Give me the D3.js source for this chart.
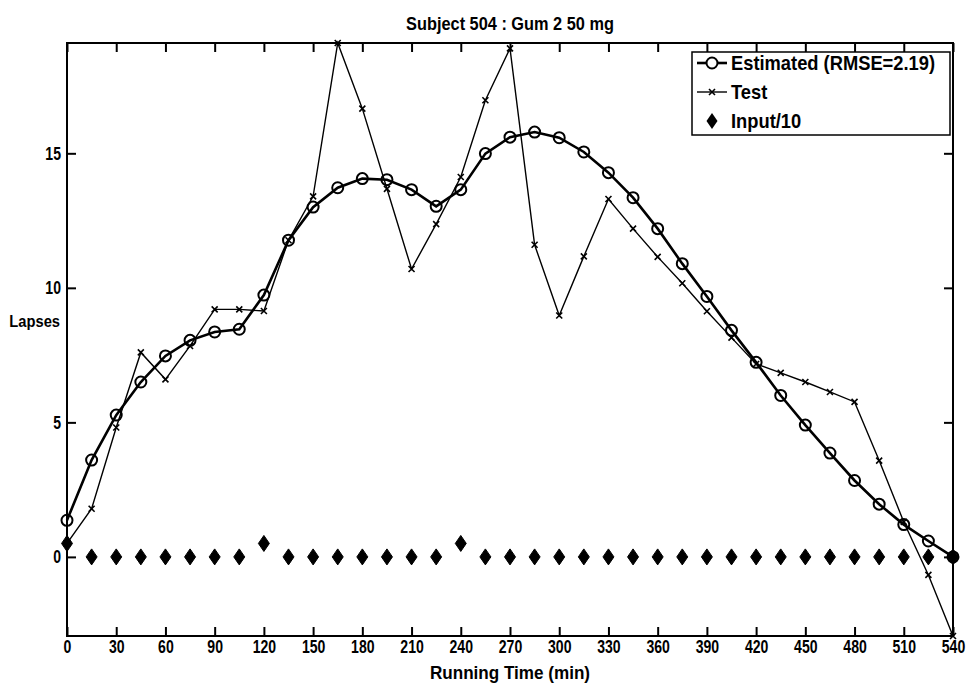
<!DOCTYPE html>
<html>
<head>
<meta charset="utf-8">
<script src="https://cdn.jsdelivr.net/npm/d3@7"></script>
<style>
  body { margin: 0; background: #fff; }
  text {
    font-family: "Liberation Sans", Arial, Helvetica, sans-serif;
    font-weight: bold;
    fill: #000;
  }
</style>
</head>
<body>
<svg id="chart" width="970" height="690"></svg>
<script>
// Sampling times (minutes)
const runningTime = [0, 15, 30, 45, 60, 75, 90, 105, 120, 135, 150, 165, 180, 195, 210, 225, 240, 255,
  270, 285, 300, 315, 330, 345, 360, 375, 390, 405, 420, 435, 450, 465, 480, 495, 510, 525, 540];

// Model estimate of lapses
const estimated = [1.36, 3.6, 5.27, 6.5, 7.47, 8.05, 8.36, 8.46, 9.73, 11.77, 13.0, 13.72, 14.06, 14.02,
  13.65, 13.03, 13.65, 14.99, 15.6, 15.79, 15.58, 15.05, 14.28, 13.35, 12.2, 10.9, 9.68, 8.42, 7.23,
  6.0, 4.9, 3.86, 2.84, 1.96, 1.2, 0.59, 0.0];

// Observed lapses in the test session
const testLapses = [0.5, 1.79, 4.81, 7.6, 6.6, 7.84, 9.2, 9.2, 9.14, 11.77, 13.4, 19.1, 16.66, 13.68,
  10.7, 12.37, 14.12, 16.97, 18.9, 11.6, 8.97, 11.17, 13.3, 12.2, 11.15, 10.17, 9.13, 8.15, 7.17,
  6.84, 6.5, 6.13, 5.76, 3.58, 1.3, -0.67, -2.94];

// Dose input, scaled by 1/10
const inputTenth = [0.5, 0, 0, 0, 0, 0, 0, 0, 0.5, 0, 0, 0, 0, 0, 0, 0, 0.5, 0, 0, 0, 0, 0, 0, 0, 0,
  0, 0, 0, 0, 0, 0, 0, 0, 0, 0, 0, 0];

const xTickValues = [0, 30, 60, 90, 120, 150, 180, 210, 240, 270, 300, 330, 360, 390, 420, 450, 480, 510, 540];
const yTickValues = [0, 5, 10, 15];

const titleText = "Subject 504 : Gum 2 50 mg";
const xLabel = "Running Time (min)";
const yLabel = "Lapses";
const legendLabels = ["Estimated (RMSE=2.19)", "Test", "Input/10"];

// ---- layout ----
const svg = d3.select("#chart");
const plot = { left: 67, right: 953, top: 43, bottom: 636 };
const tickLen = 9;
const narrow = 0.74;         // horizontal squeeze for the tick numerals
const tickFont = 19;

const x = d3.scaleLinear().domain([0, 540]).range([plot.left, plot.right]);
// tight y-range over every plotted series
const allValues = estimated.concat(testLapses, inputTenth);
const y = d3.scaleLinear().domain(d3.extent(allValues)).range([plot.bottom, plot.top]);

const styleTicks = g => {
  g.select(".domain").remove();
  g.selectAll("line").attr("stroke", "#000").attr("stroke-width", 2);
};

// axes with inward ticks on all four sides
svg.append("g")
  .attr("transform", `translate(0,${plot.bottom})`)
  .call(d3.axisBottom(x).tickValues(xTickValues).tickFormat(d3.format("d"))
    .tickSizeInner(-tickLen).tickSizeOuter(0).tickPadding(4))
  .call(styleTicks)
  .call(g => g.selectAll("text").attr("font-size", tickFont)
    .attr("transform", `scale(${narrow},1)`));

svg.append("g")
  .attr("transform", `translate(0,${plot.top})`)
  .call(d3.axisTop(x).tickValues(xTickValues).tickFormat("")
    .tickSizeInner(-tickLen).tickSizeOuter(0))
  .call(styleTicks);

const yPad = 6;
svg.append("g")
  .attr("transform", `translate(${plot.left},0)`)
  .call(d3.axisLeft(y).tickValues(yTickValues).tickFormat(d3.format("d"))
    .tickSizeInner(-tickLen).tickSizeOuter(0).tickPadding(yPad))
  .call(styleTicks)
  .call(g => g.selectAll("text").attr("font-size", tickFont)
    .attr("x", -yPad / narrow)
    .attr("transform", `scale(${narrow},1)`));

svg.append("g")
  .attr("transform", `translate(${plot.right},0)`)
  .call(d3.axisRight(y).tickValues(yTickValues).tickFormat("")
    .tickSizeInner(-tickLen).tickSizeOuter(0))
  .call(styleTicks);

// plot frame
svg.append("rect")
  .attr("x", plot.left).attr("y", plot.top)
  .attr("width", plot.right - plot.left).attr("height", plot.bottom - plot.top)
  .attr("fill", "none").attr("stroke", "#000").attr("stroke-width", 2);

// ---- series ----
const series = svg.append("g");

const estPts = runningTime.map((t, i) => [x(t), y(estimated[i])]);
const testPts = runningTime.map((t, i) => [x(t), y(testLapses[i])]);
const inPts = runningTime.map((t, i) => [x(t), y(inputTenth[i])]);

const line = d3.line();
const xMark = (cx, cy) => `M${cx-3},${cy-3}L${cx+3},${cy+3}M${cx-3},${cy+3}L${cx+3},${cy-3}`;
const diamond = (cx, cy) => `M${cx},${cy-8}L${cx+5.5},${cy}L${cx},${cy+8}L${cx-5.5},${cy}Z`;

// test: thin line with x markers
series.append("path").attr("d", line(testPts))
  .attr("fill", "none").attr("stroke", "#000").attr("stroke-width", 1.4);
series.selectAll(".xmark").data(testPts).join("path")
  .attr("class", "xmark")
  .attr("d", d => xMark(d[0], d[1]))
  .attr("stroke", "#000").attr("stroke-width", 1.6);

// estimate: heavy line with open circles
series.append("path").attr("d", line(estPts))
  .attr("fill", "none").attr("stroke", "#000").attr("stroke-width", 2.6);
series.selectAll(".omark").data(estPts).join("circle")
  .attr("class", "omark")
  .attr("cx", d => d[0]).attr("cy", d => d[1]).attr("r", 5.5)
  .attr("fill", "none").attr("stroke", "#000").attr("stroke-width", 2);

// input: filled diamonds, no line
series.selectAll(".dmark").data(inPts).join("path")
  .attr("class", "dmark")
  .attr("d", d => diamond(d[0], d[1]))
  .attr("fill", "#000").attr("stroke", "#000").attr("stroke-width", 1);

// ---- labels ----
svg.append("text")
  .attr("transform", `translate(${(plot.left + plot.right) / 2},30) scale(0.86,1)`)
  .attr("text-anchor", "middle").attr("font-size", 19).text(titleText);

svg.append("text")
  .attr("transform", `translate(${(plot.left + plot.right) / 2},679) scale(0.9,1)`)
  .attr("text-anchor", "middle").attr("font-size", 19).text(xLabel);

svg.append("text")
  .attr("transform", `translate(60,327) scale(0.92,1)`)
  .attr("text-anchor", "end").attr("font-size", 16).text(yLabel);

// ---- legend ----
const lg = { x: 692, y: 52, w: 258, h: 83, rowH: 29 };
const legend = svg.append("g");
legend.append("rect").attr("x", lg.x).attr("y", lg.y).attr("width", lg.w).attr("height", lg.h)
  .attr("fill", "#fff").attr("stroke", "#000").attr("stroke-width", 1.5);

legendLabels.forEach((label, i) => {
  const cy = lg.y + 11 + i * lg.rowH;
  const x0 = lg.x + 5, x1 = lg.x + 35, xm = (x0 + x1) / 2;
  const row = legend.append("g");
  if (i === 0) {
    row.append("line").attr("x1", x0).attr("x2", x1).attr("y1", cy).attr("y2", cy)
      .attr("stroke", "#000").attr("stroke-width", 2.6);
    row.append("circle").attr("cx", xm).attr("cy", cy).attr("r", 5.5)
      .attr("fill", "#fff").attr("stroke", "#000").attr("stroke-width", 2);
  } else if (i === 1) {
    row.append("line").attr("x1", x0).attr("x2", x1).attr("y1", cy).attr("y2", cy)
      .attr("stroke", "#000").attr("stroke-width", 1.4);
    row.append("path").attr("d", xMark(xm, cy))
      .attr("stroke", "#000").attr("stroke-width", 1.6);
  } else {
    row.append("path").attr("d", diamond(xm, cy)).attr("fill", "#000");
  }
  row.append("text")
    .attr("transform", `translate(${x1 + 4},${cy}) scale(0.94,1)`)
    .attr("dy", "0.36em")
    .attr("font-size", 19.5).text(label);
});
</script>
</body>
</html>
